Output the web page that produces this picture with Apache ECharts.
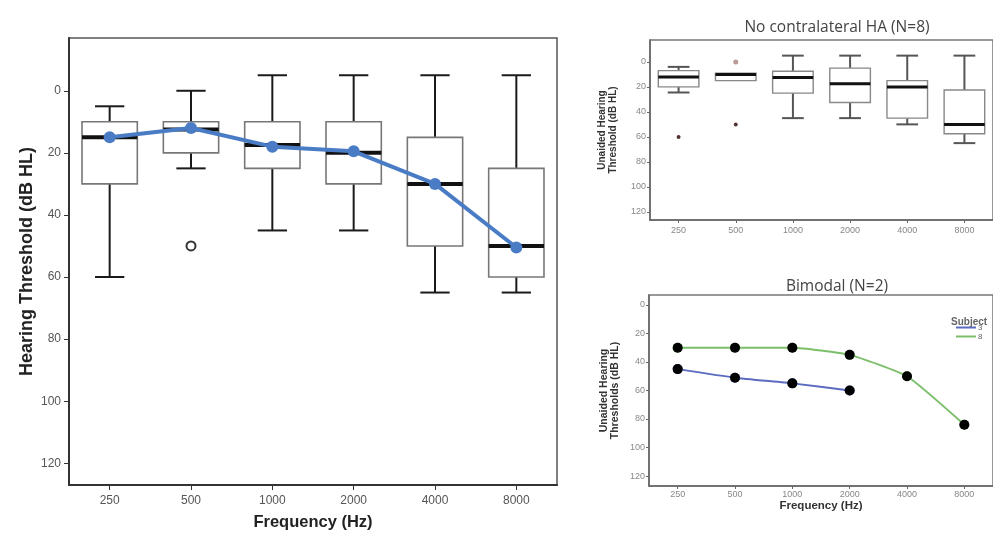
<!DOCTYPE html>
<html>
<head>
<meta charset="utf-8">
<script src="https://cdn.jsdelivr.net/npm/echarts@6/dist/echarts.min.js"></script>
<style>
html,body{margin:0;padding:0;background:#fff;}
#chart{width:993px;height:537px;}
</style>
</head>
<body>
<div id="chart"></div>
<script>
// ---------- data ----------
const freqs = ['250', '500', '1000', '2000', '4000', '8000'];
const yTicks = [0, 20, 40, 60, 80, 100, 120];

// Left panel: all subjects (box plot + mean line)
const allLower  = [5, 0, -5, -5, -5, -5];
const allQ1     = [10, 10, 10, 10, 15, 25];
const allMedian = [15, 12.5, 17.5, 20, 30, 50];
const allQ3     = [30, 20, 25, 30, 50, 60];
const allUpper  = [60, 25, 45, 45, 65, 65];
const allMean   = [15, 12, 18, 19.5, 30, 50.5];
const allOutliers = [['500', 50]];

// Top right: No contralateral HA (N=8)
const noHaLower  = [4, 9, -5, -5, -5, -5];
const noHaQ1     = [7, 9, 7.5, 5, 15, 22.5];
const noHaMedian = [12, 10, 12.5, 17.5, 20, 50];
const noHaQ3     = [20, 15, 25, 32.5, 45, 57.5];
const noHaUpper  = [24.5, 15, 45, 45, 50, 65];
const noHaExtremes = [['250', 60], ['500', 50]];
const noHaOutliers = [['500', 0]];

// Bottom right: Bimodal (N=2)
const subjectNames = ['3', '8'];
const subject3 = [45, 51, 55, 60, null, null];
const subject8 = [30, 30, 30, 35, 50, 84];

// ---------- helpers ----------
const FONT = 'Liberation Sans, Arial, sans-serif';
function boxRows(lo, q1, med, q3, hi) {
  return freqs.map((f, i) => [i, lo[i], q1[i], med[i], q3[i], hi[i]]);
}
function makeBoxRenderer(cfg) {
  return function (params, api) {
    const x = api.value(0);
    const pLo = api.coord([x, api.value(1)]);
    const pQ1 = api.coord([x, api.value(2)]);
    const pMed = api.coord([x, api.value(3)]);
    const pQ3 = api.coord([x, api.value(4)]);
    const pHi = api.coord([x, api.value(5)]);
    const band = api.size([1, 0])[0];
    const bw = band * cfg.boxRatio;
    const cw = band * cfg.capRatio;
    const cx = pLo[0];
    const wStyle = { stroke: cfg.whiskerColor, lineWidth: cfg.whiskerWidth };
    const children = [];
    const line = (x1, y1, x2, y2, st) => children.push({ type: 'line', shape: { x1, y1, x2, y2 }, style: st });
    if (Math.abs(pLo[1] - pQ1[1]) > 0.5) {
      line(cx, pLo[1], cx, pQ1[1], wStyle);
      line(cx - cw / 2, pLo[1], cx + cw / 2, pLo[1], wStyle);
    }
    if (Math.abs(pHi[1] - pQ3[1]) > 0.5) {
      line(cx, pQ3[1], cx, pHi[1], wStyle);
      line(cx - cw / 2, pHi[1], cx + cw / 2, pHi[1], wStyle);
    }
    const yTop = Math.min(pQ1[1], pQ3[1]);
    const h = Math.abs(pQ3[1] - pQ1[1]);
    children.push({ type: 'rect', shape: { x: cx - bw / 2, y: yTop, width: bw, height: h },
      style: { fill: '#fff', stroke: cfg.boxColor, lineWidth: cfg.boxWidth } });
    line(cx - bw / 2, pMed[1], cx + bw / 2, pMed[1], { stroke: '#111', lineWidth: cfg.medianWidth });
    return { type: 'group', children };
  };
}

function catAxis(gi, labelSize, margin, tickLen, lineW, lineColor, labelColor) {
  return {
    type: 'category', gridIndex: gi, data: freqs, boundaryGap: true,
    axisLine: { show: true, onZero: false, lineStyle: { color: lineColor, width: lineW } },
    axisTick: { show: true, alignWithLabel: true, length: tickLen, lineStyle: { color: lineColor, width: 1 } },
    axisLabel: { fontSize: labelSize, margin: margin, color: labelColor, fontFamily: FONT },
    splitLine: { show: false }
  };
}
function valAxis(gi, min, max, labelSize, margin, tickLen, lineW, lineColor, labelColor) {
  return {
    type: 'value', gridIndex: gi, inverse: true, min: min, max: max,
    axisLine: { show: true, onZero: false, lineStyle: { color: lineColor, width: lineW } },
    axisTick: { show: true, length: tickLen, customValues: yTicks, lineStyle: { color: lineColor, width: 1 } },
    axisLabel: { fontSize: labelSize, margin: margin, color: labelColor, customValues: yTicks, fontFamily: FONT },
    splitLine: { show: false }
  };
}

const chart = echarts.init(document.getElementById('chart'), null, { renderer: 'canvas' });

const xAxes = [
  catAxis(0, 12, 10, 5, 2, '#333', '#555'),
  catAxis(1, 9, 6, 3, 1.5, '#666', '#888'),
  catAxis(2, 9, 4, 3, 1.5, '#666', '#888')
];
xAxes[0].name = 'Frequency (Hz)';
xAxes[0].nameLocation = 'middle';
xAxes[0].nameGap = 29;
xAxes[0].nameTextStyle = { fontSize: 16.5, fontWeight: 'bold', color: '#222', fontFamily: FONT };
xAxes[2].name = 'Frequency (Hz)';
xAxes[2].nameLocation = 'middle';
xAxes[2].nameGap = 13;
xAxes[2].nameTextStyle = { fontSize: 11.5, fontWeight: 'bold', color: '#333', fontFamily: FONT };

const yAxes = [
  valAxis(0, -17, 127, 12, 8, 5, 2, '#333', '#555'),
  valAxis(1, -17.5, 126.5, 9, 4, 3, 1.5, '#666', '#888'),
  valAxis(2, -7, 127, 9, 4, 3, 1.5, '#666', '#888')
];
yAxes[0].name = 'Hearing Threshold (dB HL)';
yAxes[0].nameLocation = 'middle';
yAxes[0].nameGap = 33;
yAxes[0].nameTextStyle = { fontSize: 18, fontWeight: 'bold', color: '#222', fontFamily: FONT };
yAxes[1].name = 'Unaided Hearing\nThreshold (dB HL)';
yAxes[1].nameLocation = 'middle';
yAxes[1].nameGap = 31;
yAxes[1].nameTextStyle = { fontSize: 10, fontWeight: 'bold', color: '#333', lineHeight: 11, fontFamily: FONT };
yAxes[2].name = 'Unaided Hearing\nThresholds (dB HL)';
yAxes[2].nameLocation = 'middle';
yAxes[2].nameGap = 28;
yAxes[2].nameTextStyle = { fontSize: 10.5, fontWeight: 'bold', color: '#333', lineHeight: 11, fontFamily: FONT };

const option = {
  backgroundColor: '#fff',
  animation: false,
  title: [
    { text: 'No contralateral HA (N=8)', left: 832, top: 15, textAlign: 'center',
      textStyle: { fontSize: 15.5, fontWeight: 'normal', color: '#444', fontFamily: 'Open Sans, Noto Sans, sans-serif' } },
    { text: 'Bimodal (N=2)', left: 832, top: 274, textAlign: 'center',
      textStyle: { fontSize: 15.5, fontWeight: 'normal', color: '#444', fontFamily: 'Open Sans, Noto Sans, sans-serif' } },
    { text: 'Subject', left: 946, top: 312,
      textStyle: { fontSize: 10, fontWeight: 'bold', color: '#666', fontFamily: FONT } }
  ],
  legend: {
    orient: 'vertical', left: 951, top: 318, itemWidth: 20, itemHeight: 2, itemGap: 0,
    data: subjectNames.map(n => ({ name: n, icon: 'rect' })),
    textStyle: { fontSize: 8, lineHeight: 9, color: '#666', padding: [0, 0, 0, -3] }
  },
  grid: [
    { left: 69, top: 38, width: 488, height: 447, show: true, borderColor: '#555', borderWidth: 1.5, backgroundColor: '#fff' },
    { left: 650, top: 40, width: 362, height: 180, show: true, borderColor: '#777', borderWidth: 1.5, backgroundColor: '#fff' },
    { left: 649, top: 295, width: 362, height: 191, show: true, borderColor: '#777', borderWidth: 1.5, backgroundColor: '#fff' }
  ],
  xAxis: xAxes,
  yAxis: yAxes,
  series: [
    {
      type: 'custom', xAxisIndex: 0, yAxisIndex: 0,
      data: boxRows(allLower, allQ1, allMedian, allQ3, allUpper),
      encode: { x: 0, y: [1, 2, 3, 4, 5] },
      renderItem: makeBoxRenderer({ boxRatio: 0.68, capRatio: 0.36, whiskerColor: '#1a1a1a', whiskerWidth: 2,
        boxColor: '#777', boxWidth: 1.6, medianWidth: 4 }),
      z: 2
    },
    {
      type: 'scatter', xAxisIndex: 0, yAxisIndex: 0, data: allOutliers,
      symbol: 'circle', symbolSize: 9,
      itemStyle: { color: '#fff', borderColor: '#333', borderWidth: 2, opacity: 1 }, z: 3
    },
    {
      type: 'line', xAxisIndex: 0, yAxisIndex: 0, data: allMean,
      symbol: 'circle', symbolSize: 12,
      lineStyle: { color: '#4a7cc6', width: 4 },
      itemStyle: { color: '#4a7cc6' }, z: 4
    },
    {
      type: 'custom', xAxisIndex: 1, yAxisIndex: 1,
      data: boxRows(noHaLower, noHaQ1, noHaMedian, noHaQ3, noHaUpper),
      encode: { x: 0, y: [1, 2, 3, 4, 5] },
      renderItem: makeBoxRenderer({ boxRatio: 0.71, capRatio: 0.38, whiskerColor: '#555', whiskerWidth: 2,
        boxColor: '#888', boxWidth: 1.4, medianWidth: 3 }),
      z: 2
    },
    {
      type: 'scatter', xAxisIndex: 1, yAxisIndex: 1, data: noHaExtremes,
      symbol: 'circle', symbolSize: 4,
      itemStyle: { color: '#553333', opacity: 1 }, z: 3
    },
    {
      type: 'scatter', xAxisIndex: 1, yAxisIndex: 1, data: noHaOutliers,
      symbol: 'circle', symbolSize: 5,
      itemStyle: { color: '#b89a9a', opacity: 1 }, z: 3
    },
    {
      name: subjectNames[0], type: 'line', xAxisIndex: 2, yAxisIndex: 2, data: subject3,
      symbol: 'circle', symbolSize: 10, smooth: 0.15,
      lineStyle: { color: '#5b6cc0', width: 2 },
      itemStyle: { color: '#5b6cc0' }, z: 3
    },
    {
      name: subjectNames[1], type: 'line', xAxisIndex: 2, yAxisIndex: 2, data: subject8,
      symbol: 'circle', symbolSize: 10, smooth: 0.15,
      lineStyle: { color: '#7cbf6a', width: 2 },
      itemStyle: { color: '#7cbf6a' }, z: 3
    },
    {
      type: 'scatter', xAxisIndex: 2, yAxisIndex: 2, data: subject3,
      symbol: 'circle', symbolSize: 10, itemStyle: { color: '#000', opacity: 1 }, z: 5, silent: true
    },
    {
      type: 'scatter', xAxisIndex: 2, yAxisIndex: 2, data: subject8,
      symbol: 'circle', symbolSize: 10, itemStyle: { color: '#000', opacity: 1 }, z: 5, silent: true
    }
  ]
};
chart.setOption(option);
</script>
</body>
</html>
